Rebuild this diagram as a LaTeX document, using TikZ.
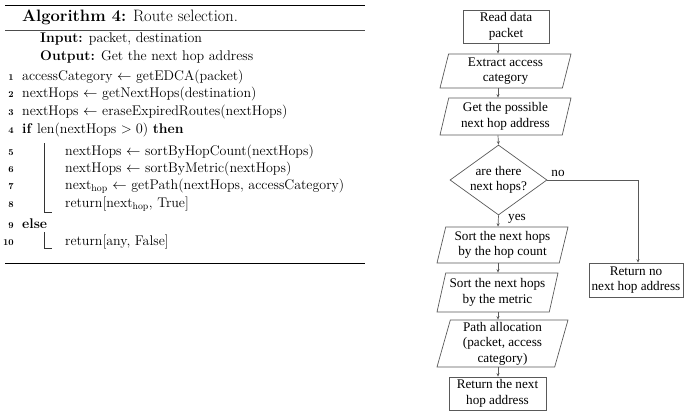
\documentclass[tikz,border=0pt]{standalone}
\usepackage{fontspec}
\newfontfamily\flowfont{Liberation Serif}
\usetikzlibrary{shapes.geometric,arrows.meta}
\begin{document}
\begin{tikzpicture}[x=1pt,y=-1pt,
  algtext/.style={anchor=base west,inner sep=0pt,font=\fontsize{14}{16}\selectfont},
  lnum/.style={anchor=base east,inner sep=0pt,font=\fontsize{9}{10}\selectfont\bfseries},
  fbox/.style={draw=black!65,line width=0.7pt,rectangle,align=center,inner sep=1pt,
    font=\flowfont\fontsize{13.2}{15.5}\selectfont},
  fpar/.style={draw=black!65,line width=0.7pt,trapezium,trapezium stretches body,
    trapezium left angle=73.5,trapezium right angle=106.5,align=center,inner sep=1pt,
    font=\flowfont\fontsize{13.2}{15.5}\selectfont},
  fdia/.style={draw=black!65,line width=0.7pt,diamond,aspect=1.39,align=center,inner sep=0pt,
    font=\flowfont\fontsize{13.2}{15.5}\selectfont},
  flab/.style={inner sep=0pt,font=\flowfont\fontsize{13.2}{15.5}\selectfont},
  farr/.style={draw=black!65,line width=0.7pt,-{Stealth[length=3.5pt,width=3pt]}},
  bar/.style={line width=0.6pt,black!80}]
\useasboundingbox (0,0) rectangle (689,413);
% ---------- algorithm ----------
\draw[line width=1.4pt] (5,5.5) -- (365,5.5);
\draw[line width=0.8pt,black!70] (5,30) -- (365,30);
\draw[line width=1.4pt] (5,263.5) -- (365,263.5);
\node[algtext,font=\fontsize{16.5}{18}\selectfont] (title) at (22,21) {\textbf{Algorithm 4:} Route selection.};
\node[algtext] (inp) at (40,42) {\textbf{Input:} packet, destination};
\node[algtext] (outp) at (40,60) {\textbf{Output:} Get the next hop address};
\node[lnum] (n1) at (14,80) {1};
\node[algtext] (l1) at (22,80) {accessCategory $\leftarrow$ getEDCA(packet)};
\node[lnum] (n2) at (14,97.5) {2};
\node[algtext] (l2) at (22,97.5) {nextHops $\leftarrow$ getNextHops(destination)};
\node[lnum] (n3) at (14,115) {3};
\node[algtext] (l3) at (22,115) {nextHops $\leftarrow$ eraseExpiredRoutes(nextHops)};
\node[lnum] (n4) at (14,133) {4};
\node[algtext] (l4) at (22,133) {\textbf{if} len(nextHops $>0$) \textbf{then}};
\node[lnum] (n5) at (14,155) {5};
\node[algtext] (l5) at (65,155) {nextHops $\leftarrow$ sortByHopCount(nextHops)};
\node[lnum] (n6) at (14,172) {6};
\node[algtext] (l6) at (65,172) {nextHops $\leftarrow$ sortByMetric(nextHops)};
\node[lnum] (n7) at (14,189) {7};
\node[algtext] (l7) at (65,189) {next\textsubscript{hop} $\leftarrow$ getPath(nextHops,~accessCategory)};
\node[lnum] (n8) at (14,207) {8};
\node[algtext] (l8) at (65,207) {return[next\textsubscript{hop}, True]};
\node[lnum] (n9) at (14,228) {9};
\node[algtext] (l9) at (22,228) {\textbf{else}};
\node[lnum] (n10) at (14,245.5) {10};
\node[algtext] (l10) at (65,245.5) {return[any, False]};
\draw[bar] (44,143) -- (44,212) -- (52,212);
\draw[bar] (44,232) -- (44,248) -- (52,248);
% ---------- flowchart ----------
\coordinate (ax) at (498,0);
\coordinate (nx) at (638,0);
\node[fbox,minimum width=86pt,minimum height=33pt] (read) at (506,26.5) {Read data\\packet};
\node[fpar,minimum width=131pt,minimum height=34pt] (ext) at (505.5,71) {Extract access\\category};
\node[fpar,minimum width=131pt,minimum height=37pt] (poss) at (505.5,116.5) {Get the possible\\next hop address};
\node[fdia,minimum width=97pt,minimum height=70pt] (dia) at (498.5,180) {are there\\next hops?};
\node[fpar,minimum width=131pt,minimum height=36pt] (hop) at (502.5,245) {Sort the next hops\\by the hop count};
\node[fpar,minimum width=121pt,minimum height=39pt] (met) at (497.5,292.5) {Sort the next hops\\by the metric};
\node[fpar,minimum width=131pt,minimum height=47pt] (path) at (502.5,343.5) {Path allocation\\(packet, access\\category)};
\node[fbox,minimum width=97pt,minimum height=33pt] (ret) at (497.5,393.5) {Return the next\\hop address};
\node[fbox,minimum width=94pt,minimum height=34pt] (retno) at (636,280) {Return no\\next hop address};
\draw[farr] (read.south -| ax) -- (ext.north -| ax);
\draw[farr] (ext.south -| ax) -- (poss.north -| ax);
\draw[farr] (poss.south -| ax) -- (dia.north);
\draw[farr] (dia.south) -- (hop.north -| ax);
\draw[farr] (hop.south -| ax) -- (met.north -| ax);
\draw[farr] (met.south -| ax) -- (path.north -| ax);
\draw[farr] (path.south -| ax) -- (ret.north -| ax);
\draw[farr] (dia.east) -- (dia.east -| nx) -- (retno.north -| nx);
\node[flab] (no) at (558,173) {no};
\node[flab] (yes) at (517,219) {yes};
\end{tikzpicture}
\end{document}
